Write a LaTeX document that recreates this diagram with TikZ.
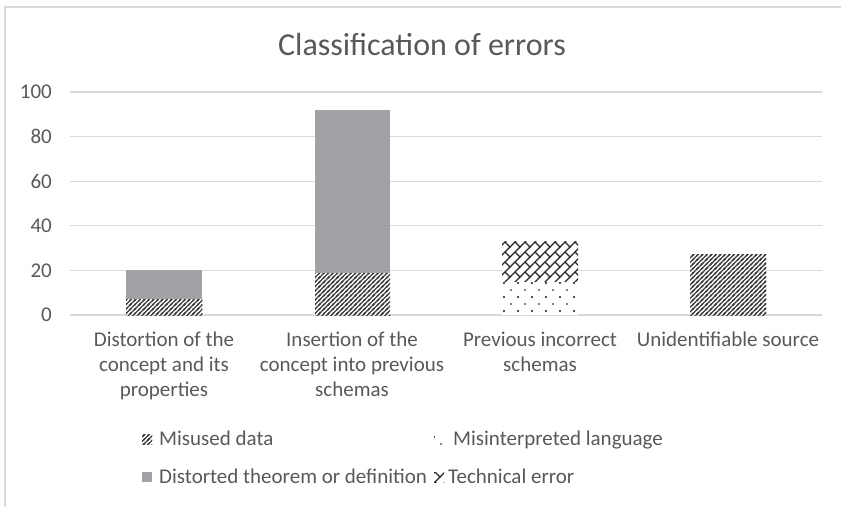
\documentclass[tikz,border=0pt]{standalone}
\usepackage{fontspec}
\setmainfont{Carlito}
\usetikzlibrary{patterns.meta}
\definecolor{txtgray}{RGB}{89,89,89}
\definecolor{gridgray}{RGB}{217,217,217}
\definecolor{bargray}{RGB}{160,162,166}
\definecolor{hatchgray}{RGB}{64,64,64}
\tikzdeclarepattern{
  name=misusedpat,
  type=uncolored,
  bounding box={(-1pt,-1pt) and (5.5pt,5.5pt)},
  tile size={(4.5pt,4.5pt)},
  code={
    \draw[line width=1.15pt] (-1pt,-1pt) -- (5.5pt,5.5pt);
    \draw[line width=1.15pt] (-1pt,3.5pt) -- (1pt,5.5pt);
    \draw[line width=1.15pt] (3.5pt,-1pt) -- (5.5pt,1pt);
  }
}
\tikzdeclarepattern{
  name=dotpat,
  type=uncolored,
  bounding box={(-2pt,-2pt) and (16pt,16pt)},
  tile size={(14pt,14pt)},
  code={
    \fill (0pt,0pt) circle (1.1pt);
    \fill (7pt,7pt) circle (1.1pt);
    \fill (14pt,0pt) circle (1.1pt);
    \fill (0pt,14pt) circle (1.1pt);
    \fill (14pt,14pt) circle (1.1pt);
  }
}
\tikzdeclarepattern{
  name=brickpat,
  type=uncolored,
  bounding box={(-1pt,-1pt) and (11pt,11pt)},
  tile size={(10pt,10pt)},
  code={
    \draw[line width=1.3pt] (-1pt,-1pt) -- (11pt,11pt);
    \draw[line width=1.3pt] (5pt,5pt) -- (10pt,0pt);
  }
}
\begin{document}
\begin{tikzpicture}[x=1pt,y=-1pt,
  declare function={Y(\v)=315-2.23*\v;},
  gridline/.style={draw=gridgray,line width=1.3pt},
  lbl/.style={font=\fontsize{21}{25}\selectfont,text=txtgray,inner sep=0pt},
  solidbar/.style={fill=bargray},
  misusedbar/.style={fill=white,postaction={pattern={misusedpat},pattern color=hatchgray}},
  dotbar/.style={fill=white,postaction={pattern={dotpat},pattern color=txtgray}},
  brickbar/.style={fill=white,postaction={pattern={brickpat},pattern color=black!85}},
  keybox/.style={minimum width=10pt,minimum height=10pt,inner sep=0pt}]
\useasboundingbox (0,0) rectangle (841,507);
\fill[white] (0,0) rectangle (841,507);
% chart border
\draw[gridgray,line width=1.5pt] (5,507) -- (5,7) -- (841,7);
% title
\node[lbl,font=\fontsize{32}{38}\selectfont] (title) at (422,45) {Classification of errors};
% grid and y labels
\foreach \v/\nm in {0/y0,20/y20,40/y40,60/y60,80/y80,100/y100}{
  \draw[gridline] (70,{Y(\v)}) -- (822,{Y(\v)});
  \node[lbl,anchor=east] (\nm) at (52,{Y(\v)}) {\v};
}
% bars
\path[misusedbar] (126,{Y(0)}) rectangle (202,{Y(7)});
\path[solidbar] (126,{Y(7)}) rectangle (202,{Y(20)});
\path[misusedbar] (315,{Y(0)}) rectangle (390,{Y(19)});
\path[solidbar] (315,{Y(19)}) rectangle (390,{Y(92)});
\path[dotbar] (502,{Y(0)}) rectangle (578,{Y(15)});
\path[brickbar] (502,{Y(15)}) rectangle (578,{Y(33)});
\path[misusedbar] (690,{Y(0)}) rectangle (766,{Y(27)});
% category labels
\node[lbl,anchor=north,align=center] (c1) at (164,332) {Distortion of the\\concept and its\\properties};
\node[lbl,anchor=north,align=center] (c2) at (352,332) {Insertion of the\\concept into previous\\schemas};
\node[lbl,anchor=north,align=center] (c3) at (540,332) {Previous incorrect\\schemas};
\node[lbl,anchor=north,align=center] (c4) at (728,332) {Unidentifiable source};
% legend
\node[keybox,misusedbar] (k1) at (147,439) {};
\node[lbl,anchor=base west] (l1) at (159,445) {Misused data};
\node[keybox,dotbar] (k2) at (439,439) {};
\node[lbl,anchor=base west] (l2) at (453,445) {Misinterpreted language};
\node[keybox,solidbar] (k3) at (147,477) {};
\node[lbl,anchor=base west] (l3) at (159,483) {Distorted theorem or definition};
\node[keybox,brickbar] (k4) at (439,477) {};
\node[lbl,anchor=base west] (l4) at (448,483) {Technical error};
\end{tikzpicture}
\end{document}
